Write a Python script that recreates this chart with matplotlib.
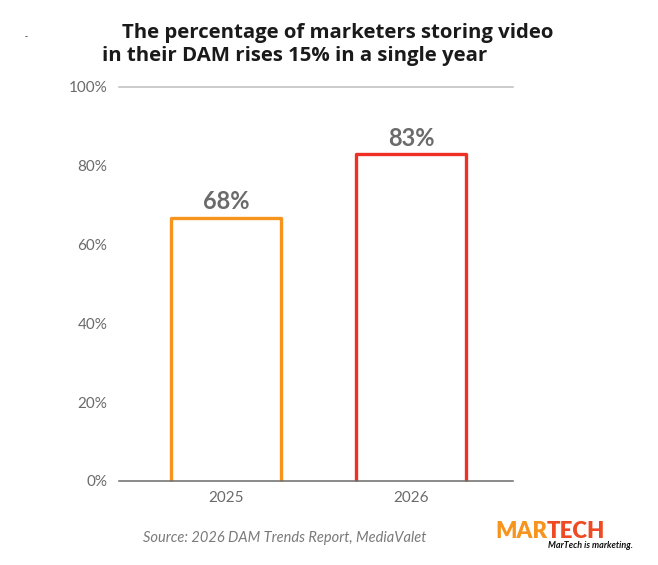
import matplotlib
matplotlib.use("Agg")
import matplotlib.pyplot as plt

# ---- data ----
categories = ["2025", "2026"]
values = [66.8, 83.0]            # bar heights as drawn
value_labels = ["68%", "83%"]    # labels as printed
bar_colors = ["#F7941D", "#EE3124"]
yticks = [0, 20, 40, 60, 80, 100]
ytick_labels = ["0%", "20%", "40%", "60%", "80%", "100%"]
title_lines = ["The percentage of marketers storing video",
               "in their DAM rises 15% in a single year"]
source_text = "Source: 2026 DAM Trends Report, MediaValet"

W, H = 658, 565
fig = plt.figure(figsize=(W / 100, H / 100), dpi=100)
fig.patch.set_facecolor("white")

def fx(px):
    return px / W

def fy(py):
    return 1 - py / H

ax = fig.add_axes([fx(119), fy(481), fx(513) - fx(119), fy(87) - fy(481)])
x = list(range(len(categories)))
bars = ax.bar(x, values, width=0.595, fill=False, edgecolor="none",
              linewidth=0, zorder=2)
# open-bottom outlines following each bar's geometry
for b, c in zip(bars, bar_colors):
    x0, w, h = b.get_x(), b.get_width(), b.get_height()
    ax.plot([x0, x0, x0 + w, x0 + w], [0, h, h, 0], color=c, lw=2.4,
            solid_joinstyle="round", solid_capstyle="butt", zorder=2,
            clip_on=False)

ax.set_xlim(-0.578, 1.551)
ax.set_ylim(0, 100)
ax.set_yticks(yticks)
ax.set_yticklabels(ytick_labels)
ax.set_xticks(x)
ax.set_xticklabels(categories)
ax.tick_params(axis="both", length=0, labelsize=11, labelcolor="#6b6b6b")
ax.tick_params(axis="y", pad=8.5)
ax.tick_params(axis="x", pad=7.5)
for lab in ax.get_xticklabels() + ax.get_yticklabels():
    lab.set_fontfamily("Lato")

for s in ["left", "right"]:
    ax.spines[s].set_visible(False)
ax.spines["bottom"].set_color("#6b6b6b")
ax.spines["bottom"].set_linewidth(1.1)
ax.spines["bottom"].set_zorder(3)
ax.spines["top"].set_color("#bdbdbd")
ax.spines["top"].set_linewidth(1.1)

for xi, v, lab in zip(x, values, value_labels):
    ax.annotate(lab, (xi, v), xytext=(0, 6), textcoords="offset points",
                ha="center", va="baseline", fontsize=17, fontweight="bold",
                color="#6b6b6b", family="Lato")

# title
fig.text(fx(122), fy(38), title_lines[0], ha="left", va="baseline",
         fontsize=14.7, fontweight="bold", color="#1a1a1a", family="Open Sans")
fig.text(fx(102), fy(61), title_lines[1], ha="left", va="baseline",
         fontsize=14.7, fontweight="bold", color="#1a1a1a", family="Open Sans")

# stray mark top-left
fig.text(fx(26), fy(37), "-", ha="center", va="center", fontsize=6,
         color="#333333")

# source
fig.text(fx(285), fy(538), source_text, ha="center", va="center",
         fontsize=10.5, fontstyle="italic", fontweight="normal",
         color="#7a7a7a", family="Lato")

# logo
t1 = fig.text(fx(495), fy(538), "MAR", ha="left", va="baseline",
              fontsize=16, fontweight="heavy", color="#F7941D", family="Lato")
fig.canvas.draw()
bb = t1.get_window_extent()
fig.text(bb.x1 / W, fy(538), "TECH", ha="left", va="baseline",
         fontsize=16, fontweight="heavy", color="#EE4A23", family="Lato")
fig.text(fx(633), fy(546), "MarTech is marketing.", ha="right", va="center",
         fontsize=6.5, fontweight="bold", fontstyle="italic", color="#111111",
         family="Lato")

fig.savefig("out.png", dpi=100, facecolor="white")
